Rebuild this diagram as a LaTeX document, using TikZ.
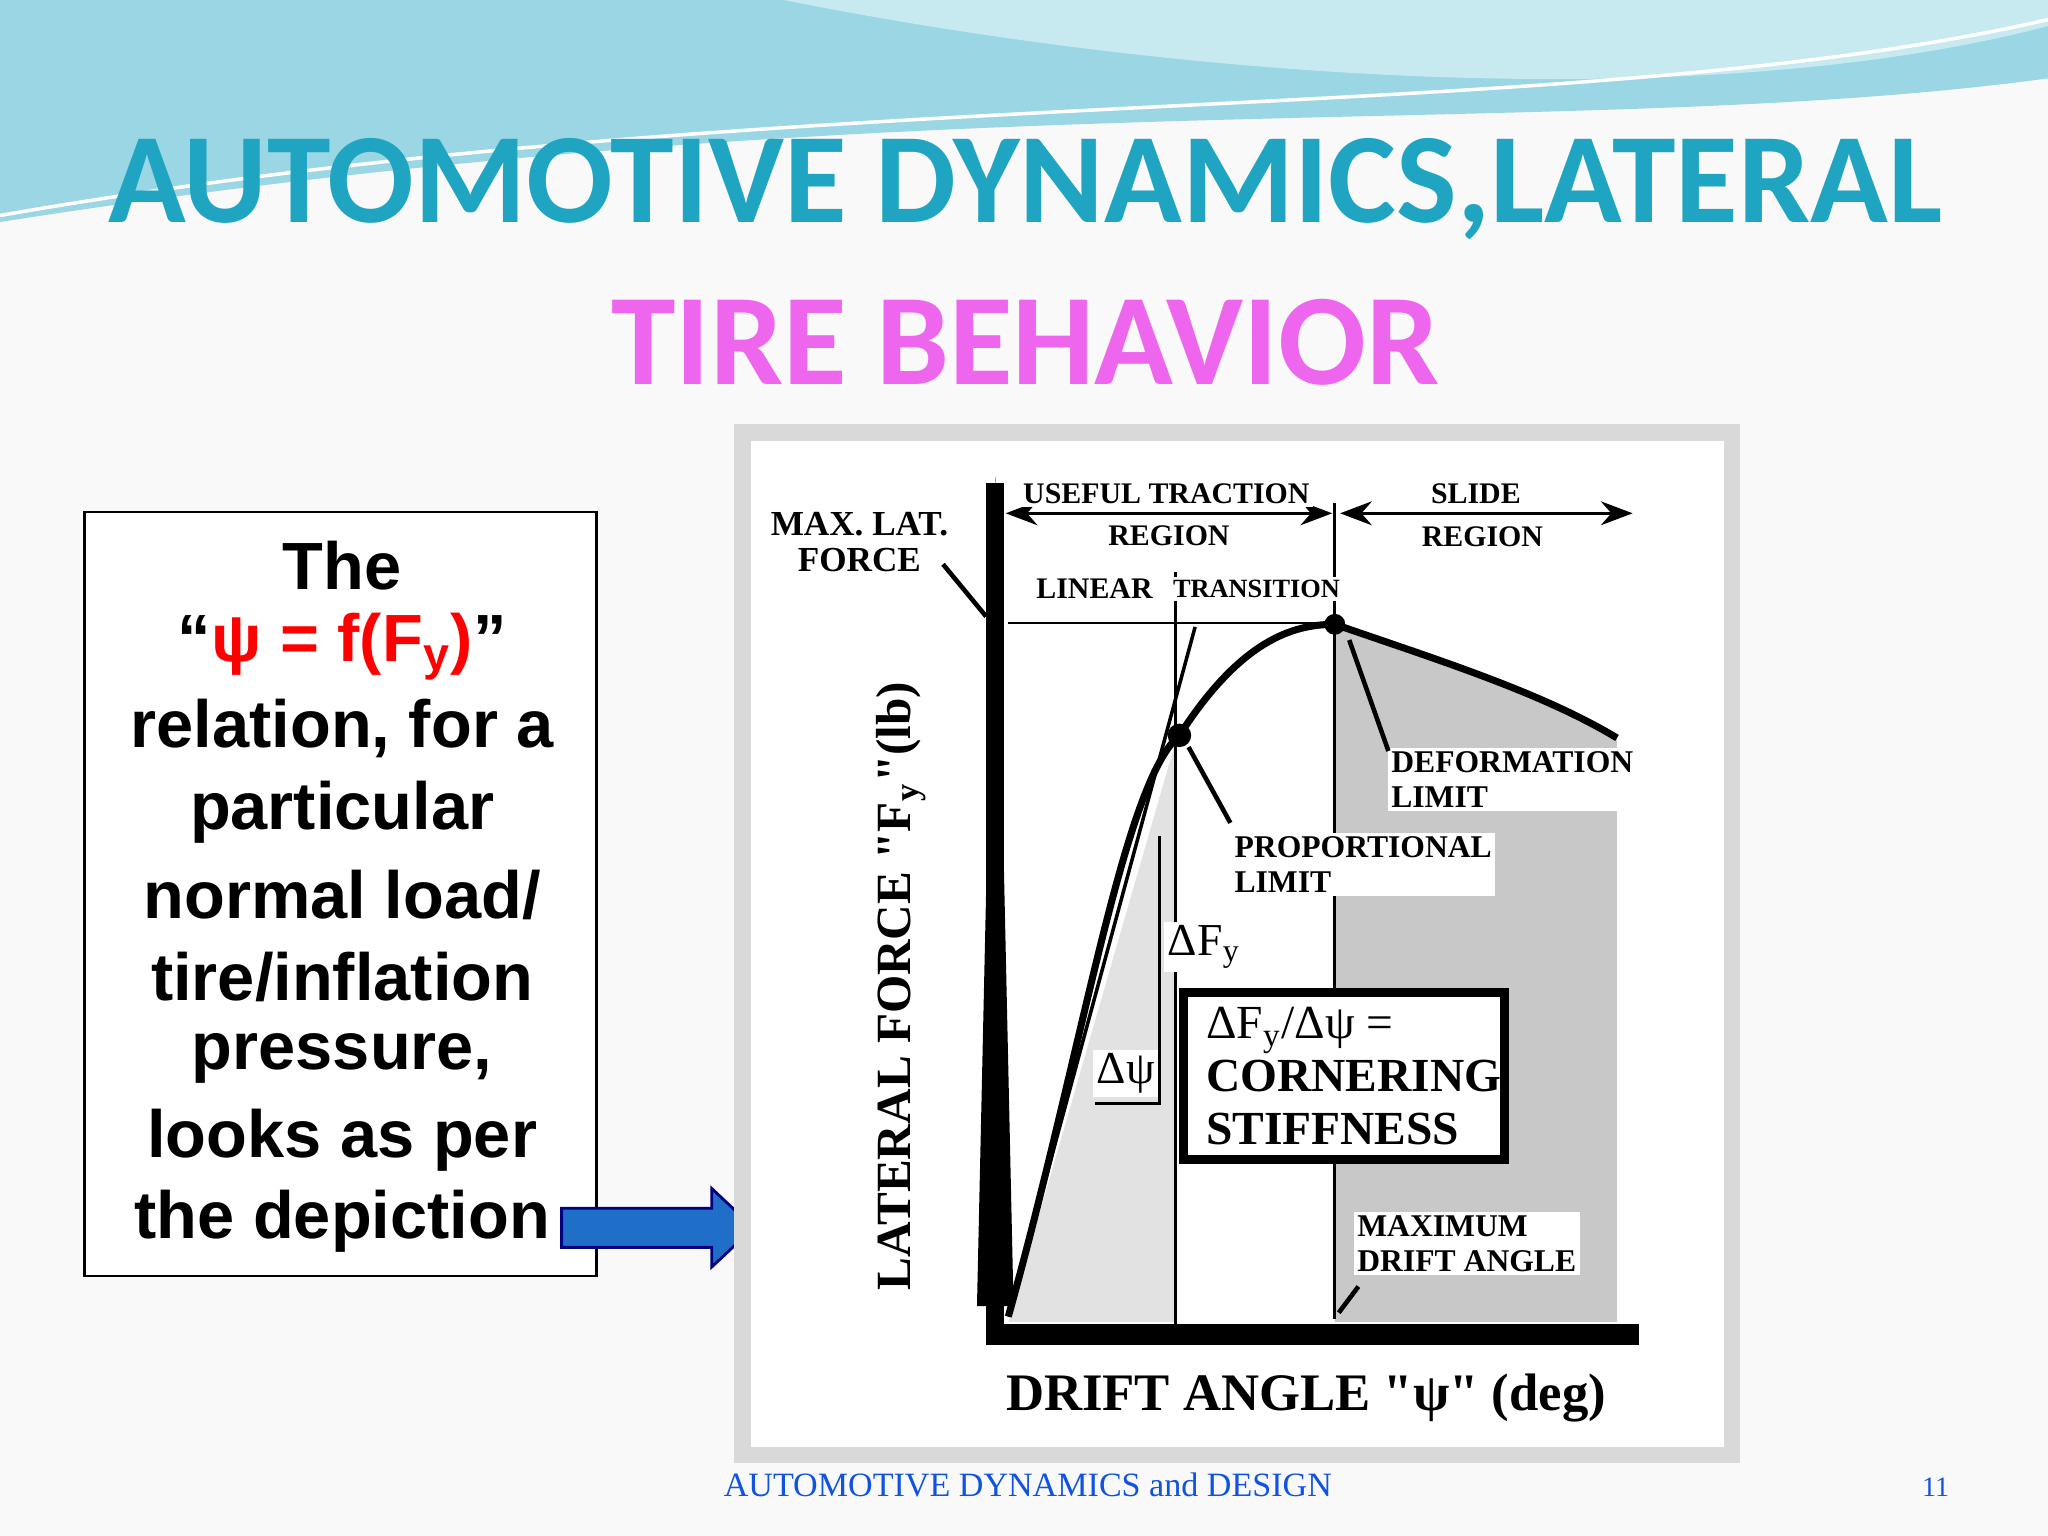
\documentclass[tikz,border=0pt]{standalone}
\usepackage{fontspec}
\setmainfont{Liberation Serif}
\newfontfamily\ttl{Carlito}
\newfontfamily\arl{Liberation Sans}
\newcommand\sdq{\XeTeXglyph\the\XeTeXcharglyph"22\relax}
\usetikzlibrary{arrows.meta}
\definecolor{teal1}{HTML}{1FA5C2}
\definecolor{mag}{HTML}{EE66EE}
\definecolor{lg}{HTML}{E2E2E2}
\definecolor{dg}{HTML}{C8C8C8}
\definecolor{arb}{HTML}{1F6FC8}
\begin{document}
\begin{tikzpicture}[x=0.013061cm,y=-0.013061cm,
 lbl/.style={font=\bfseries\fontsize{8.5}{10}\selectfont,inner sep=1pt,fill=white},
 lead/.style={line width=1.3pt},
 boxt/.style={font=\arl\bfseries\fontsize{19}{22}\selectfont}]
\useasboundingbox (0,0) rectangle (1568,1176);
\fill[white!95!gray] (0,0) rectangle (1568,1176);
% top waves
\fill[teal1!45] (0,0) -- (1568,0) -- (1568,60) .. controls (1200,110) and (700,60) .. (0,170) -- cycle;
\fill[teal1!25] (600,0) -- (1568,0) -- (1568,20) .. controls (1300,90) and (900,60) .. (600,0) -- cycle;
\draw[white,line width=1pt] (0,165) .. controls (600,60) and (1200,100) .. (1568,15);
% title
\node[font=\ttl\bfseries\fontsize{36.5}{42}\selectfont,text=teal1] (t1) at (785,145) {AUTOMOTIVE DYNAMICS,LATERAL};
\node[font=\ttl\bfseries\fontsize{37}{42}\selectfont,text=mag] (t2) at (785,262) {TIRE BEHAVIOR};
% left box
\draw[black,line width=0.8pt,fill=white] (65,392) rectangle (457,977);
\node[boxt] (l1) at (262,433) {The};
\node[boxt] (l2) at (262,495) {“\textcolor{red}{ψ = f(F\textsubscript{y})}”};
\node[boxt] (l3) at (262,558) {relation, for a};
\node[boxt] (l4) at (262,622) {particular};
\node[boxt] (l5) at (262,685) {normal load/};
\node[boxt] (l6) at (262,748) {tire/inflation};
\node[boxt] (l7) at (262,810) {pressure,};
\node[boxt] (l8) at (262,873) {looks as per};
\node[boxt] (l9) at (262,935) {the depiction};
% arrow
\fill[arb,draw=blue!50!black,line width=0.8pt] (430,925) -- (545,925) -- (545,910) -- (577,940) -- (545,970) -- (545,955) -- (430,955) -- cycle;
% chart frame
\fill[black!15] (562,325) rectangle (1332,1120);
\fill[white] (575,338) rectangle (1320,1108);
% shaded regions
\fill[lg] (772,1012) -- (900,568) -- (900,1012) -- cycle;
\fill[dg] (1022,478) .. controls (1100,505) and (1180,530) .. (1238,565) -- (1238,1012) -- (1022,1012) -- cycle;
% grid lines
\draw[line width=0.8pt] (900,438) -- (900,1015);
\draw[line width=0.8pt] (1022,385) -- (1022,1010);
\draw[line width=0.8pt] (772,477) -- (1022,477);
% curve
\draw[line width=2pt] (772,1008) .. controls (830,800) and (860,600) .. (903,563) .. controls (950,490) and (990,478) .. (1022,478) .. controls (1100,505) and (1180,530) .. (1238,565);
\draw[line width=1pt] (772,1008) -- (915,480);
\draw[line width=0.8pt] (888,640) -- (888,845) -- (838,845);
\fill (903,563) circle (9);
\fill (1022,478) circle (8);
% axes
\fill (748,1000) -- (762,365) -- (776,1000) -- cycle;
\draw[line width=5pt] (762,370) -- (762,1025);
\draw[line width=6pt] (755,1022) -- (1255,1022);
\fill (1000,1022) ellipse (35 and 6);
% arrows top
\draw[{Stealth[length=9pt]}-{Stealth[length=9pt]},line width=1pt] (770,393) -- (1020,393);
\draw[{Stealth[length=9pt]}-{Stealth[length=9pt]},line width=1pt] (1026,393) -- (1250,393);
\node[lbl] (ut) at (893,378) {USEFUL TRACTION};
\node[lbl] (ur) at (895,410) {REGION};
\node[lbl] (sl) at (1130,378) {SLIDE};
\node[lbl] (sr) at (1135,411) {REGION};
\node[lbl] (li) at (838,451) {LINEAR};
\node[lbl,font=\bfseries\fontsize{7.5}{10}\selectfont] (tr) at (962,451) {TRANSITION};
\node[lbl,font=\bfseries\fontsize{10}{10}\selectfont,align=center] (ml) at (658,415) {MAX. LAT.\\FORCE};
\draw[lead] (722,432) -- (755,472);
\node[lbl,font=\bfseries\fontsize{9}{10}\selectfont,anchor=west,align=left] (dl) at (1062,597) {DEFORMATION\\LIMIT};
\draw[lead] (1063,575) -- (1033,490);
\node[lbl,font=\bfseries\fontsize{9}{10}\selectfont,anchor=west,align=left] (pl) at (942,662) {PROPORTIONAL\\LIMIT};
\draw[lead] (942,630) -- (910,572);
\node[lbl,font=\fontsize{13}{14}\selectfont] (df) at (922,725) {ΔF\textsubscript{y}};
\node[lbl,font=\fontsize{13}{14}\selectfont] (dp) at (862,822) {Δψ};
\draw[line width=2.5pt,fill=white] (906,760) rectangle (1152,888);
\node[font=\bfseries\fontsize{13.5}{15}\selectfont,align=left,anchor=west] (cs) at (914,824) {\mdseries ΔF\textsubscript{y}/Δψ =\\CORNERING\\STIFFNESS};
\node[lbl,font=\bfseries\fontsize{9}{10}\selectfont,anchor=west,align=left] (md) at (1036,952) {MAXIMUM\\DRIFT ANGLE};
\draw[lead] (1040,985) -- (1025,1005);
\node[rotate=90,font=\bfseries\fontsize{14}{14}\selectfont] (yl) at (690,755) {LATERAL FORCE \sdq F\textsubscript{y}\sdq(lb)};
\node[font=\bfseries\fontsize{15}{15}\selectfont] (xl) at (1000,1070) {DRIFT ANGLE \sdq ψ\sdq\ (deg)};
% footer
\node[font=\fontsize{9.7}{12}\selectfont,text=blue!50!teal1] (ft) at (787,1137) {AUTOMOTIVE DYNAMICS and DESIGN};
\node[font=\fontsize{8}{10}\selectfont,text=blue!50!teal1] (pn) at (1482,1139) {11};
\end{tikzpicture}
\end{document}
